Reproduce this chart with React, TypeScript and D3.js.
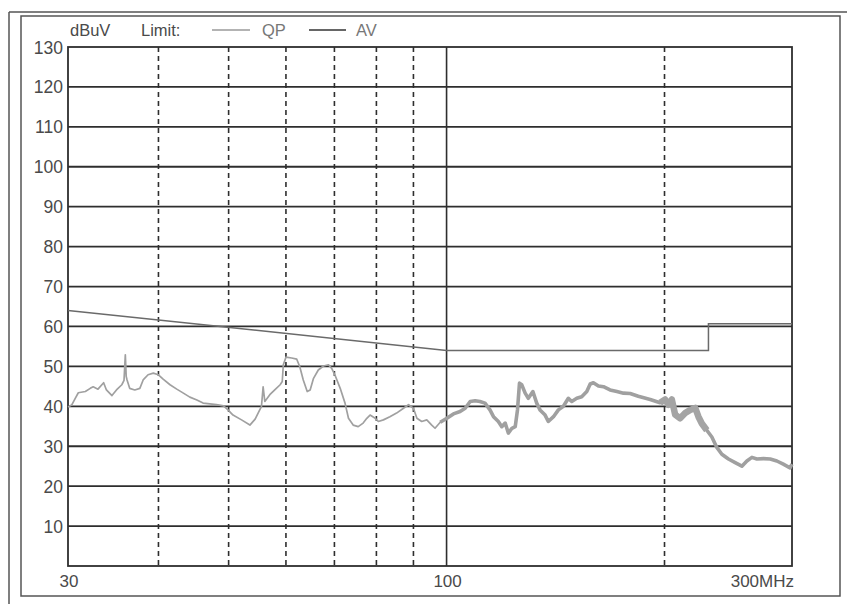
import React from "react";
import * as d3 from "d3";

// ---- data ----
const yTicks = [10, 20, 30, 40, 50, 60, 70, 80, 90, 100, 110, 120, 130];
const xLabelFreqs = [30, 100, 300];
const xLabels = ["30", "100", "300MHz"];
const dashedFreqs = [40, 50, 60, 70, 80, 90, 200];
const solidFreqs = [100];

const limitFreq = [30, 100, 230, 230, 300];
const limitLevel = [64, 54, 54, 60.7, 60.7];

const traceFreq = [
  30.0, 30.35, 30.7, 31.0, 31.7, 32.2, 32.5, 33.0, 33.6, 33.9, 34.5, 35.0, 35.6, 35.85, 36.0, 36.1,
  36.2, 36.5, 37.1, 37.7, 38.1, 38.7, 39.35, 40.0, 40.6, 41.5, 42.4, 43.3, 44.2, 45.2, 46.1, 47.1,
  48.1, 49.2, 49.9, 50.7, 52.1, 53.5, 54.4, 55.2, 55.5, 55.8, 56.1, 57.0, 57.9, 58.9, 59.3, 59.5,
  60.0, 61.1, 62.1, 62.7, 63.4, 64.2, 64.8, 65.5, 66.5, 67.6, 68.7, 69.4, 70.1, 71.3, 72.4, 73.2,
  74.3, 75.5, 76.7, 77.6, 78.4, 79.7, 80.5, 81.8, 83.5, 85.3, 87.2, 88.6, 90.0, 91.0, 92.4, 93.9,
  95.4, 96.4, 98.0, 100.1, 102.2, 104.4, 106.1, 107.8, 109.5, 111.2, 113.0, 114.8, 116.1, 117.9,
  119.2, 120.5, 121.7, 123.1, 124.4, 125.3, 126.1, 127.0, 128.4, 129.7, 131.6, 133.2, 134.6, 136.8,
  138.2, 140.5, 142.7, 145.0, 147.3, 148.9, 151.3, 153.7, 156.2, 157.9, 159.5, 162.1, 164.7, 168.2,
  171.9, 175.5, 179.3, 184.0, 191.1, 197.2, 200.4, 202.5, 204.7, 206.9, 210.2, 213.6, 217.0, 220.5,
  222.8, 225.2, 228.8, 232.5, 236.2, 240.0, 245.1, 250.4, 255.8, 259.9, 264.1, 268.3, 274.0, 279.9,
  285.9, 291.8, 298.1, 300.0,
];
const traceLevel = [
  39.8, 40.3, 42.0, 43.4, 43.7, 44.5, 44.9, 44.3, 45.9, 44.1, 42.7, 44.1, 45.4, 46.5, 52.9, 47.5,
  46.6, 44.5, 44.1, 44.5, 46.6, 47.9, 48.3, 47.9, 46.8, 45.4, 44.3, 43.3, 42.3, 41.6, 40.8, 40.6,
  40.4, 40.1, 39.1, 37.8, 36.6, 35.3, 36.8, 39.1, 39.9, 44.9, 41.2, 42.9, 44.1, 45.4, 46.2, 50.4,
  52.3, 52.1, 51.8, 49.9, 46.6, 43.7, 44.1, 47.0, 49.1, 50.1, 50.4, 49.5, 47.9, 44.5, 40.8, 37.0,
  35.3, 34.9, 35.8, 37.0, 37.8, 37.0, 36.2, 36.6, 37.4, 38.3, 39.5, 40.4, 39.5, 37.0, 36.2, 36.6,
  35.3, 34.5, 36.0, 37.0, 38.1, 38.7, 39.5, 41.2, 41.4, 41.2, 40.8, 39.1, 37.4, 36.2,
  34.9, 35.8, 33.3, 34.5, 34.9, 39.1, 45.8, 45.4, 43.3, 42.0, 43.7, 40.8, 39.1, 37.8,
  36.2, 37.4, 39.1, 40.0, 42.0, 41.2, 42.0, 42.4, 43.7, 45.6, 45.9, 45.1, 44.9, 44.1,
  43.7, 43.3, 43.2, 42.5, 41.7, 40.9, 41.7, 40.4, 41.7, 37.9, 37.0, 38.3, 39.1, 39.6,
  37.4, 35.7, 34.0, 32.3, 29.7, 28.0, 26.8, 25.9, 25.0, 26.3, 27.2, 26.8, 26.9, 26.8,
  26.3, 25.5, 24.6, 25.5,
];

const W = 847;
const H = 604;
const left = 68;
const right = 792;
const top = 47;
const bottom = 566;

export default function App() {
  const x = d3.scaleLog().domain([30, 300]).range([left, right]);
  const y = d3.scaleLinear().domain([0, 130]).range([bottom, top]);

  const lineGen = d3
    .line<[number, number]>()
    .x((d) => x(d[0]))
    .y((d) => y(d[1]));

  const trace: [number, number][] = traceFreq.map((f, i) => [f, traceLevel[i]]);
  const lowPart = trace.filter((d) => d[0] <= 100.1);
  const highPart = trace.filter((d) => d[0] >= 98);
  const densePart = trace.filter((d) => d[0] >= 197 && d[0] <= 229);
  const limit: [number, number][] = limitFreq.map((f, i) => [f, limitLevel[i]]);

  const font = "Liberation Sans, Arial, sans-serif";
  const textFill = "#4a4a4a";
  const gridStroke = "#2e2e2e";

  return (
    <svg
      width={W}
      height={H}
      style={{ position: "absolute", left: 0, top: 0, background: "#fff" }}
      fontFamily={font}
    >
      <rect x={0} y={0} width={W} height={H} fill="#fff" />
      {/* outer scan frame */}
      <line x1={9} y1={12} x2={W} y2={12} stroke="#555" strokeWidth={1.5} />
      <line x1={9} y1={12} x2={9} y2={H} stroke="#555" strokeWidth={1.5} />
      <rect x={21} y={16} width={819} height={580} fill="none" stroke="#555" strokeWidth={1.5} />

      {/* horizontal gridlines */}
      {yTicks
        .filter((t) => t < 130)
        .map((t) => (
          <line key={"h" + t} x1={left} x2={right} y1={y(t)} y2={y(t)} stroke={gridStroke} strokeWidth={1.8} />
        ))}
      {/* dashed verticals */}
      {dashedFreqs.map((f) => (
        <line
          key={"d" + f}
          x1={x(f)}
          x2={x(f)}
          y1={top}
          y2={bottom}
          stroke={gridStroke}
          strokeWidth={1.6}
          strokeDasharray="5,4"
        />
      ))}
      {solidFreqs.map((f) => (
        <line key={"s" + f} x1={x(f)} x2={x(f)} y1={top} y2={bottom} stroke={gridStroke} strokeWidth={1.6} />
      ))}
      <rect x={left} y={top} width={right - left} height={bottom - top} fill="none" stroke={gridStroke} strokeWidth={1.8} />

      {/* limit line */}
      <path d={lineGen(limit) || ""} fill="none" stroke="#6a6a6a" strokeWidth={1.5} />

      {/* measurement trace */}
      <path d={lineGen(lowPart) || ""} fill="none" stroke="#a0a0a0" strokeWidth={1.7} strokeLinejoin="round" />
      <path d={lineGen(highPart) || ""} fill="none" stroke="#a0a0a0" strokeWidth={3.6} strokeLinejoin="round" />
      <path d={lineGen(densePart) || ""} fill="none" stroke="#a4a4a4" strokeWidth={6.5} strokeLinejoin="round" />

      {/* y labels */}
      {yTicks.map((t) => (
        <text key={"yl" + t} x={63} y={y(t) + 6.5} textAnchor="end" fontSize={17.5} fill={textFill}>
          {t}
        </text>
      ))}
      {/* x labels */}
      {xLabelFreqs.map((f, i) => (
        <text
          key={"xl" + f}
          x={i === 2 ? x(f) + 2 : x(f) + 1}
          y={587}
          textAnchor={i === 2 ? "end" : "middle"}
          fontSize={17}
          fill={textFill}
        >
          {xLabels[i]}
        </text>
      ))}

      {/* legend */}
      <text x={70} y={36} fontSize={16.5} fill={textFill}>dBuV</text>
      <text x={141} y={36} fontSize={16.5} fill={textFill}>Limit:</text>
      <line x1={212} x2={250} y1={30} y2={30} stroke="#9a9a9a" strokeWidth={1.5} />
      <text x={262} y={36} fontSize={16.5} fill="#777">QP</text>
      <line x1={309} x2={346} y1={30} y2={30} stroke="#333" strokeWidth={1.5} />
      <text x={356} y={36} fontSize={16.5} fill="#777">AV</text>
    </svg>
  );
}
